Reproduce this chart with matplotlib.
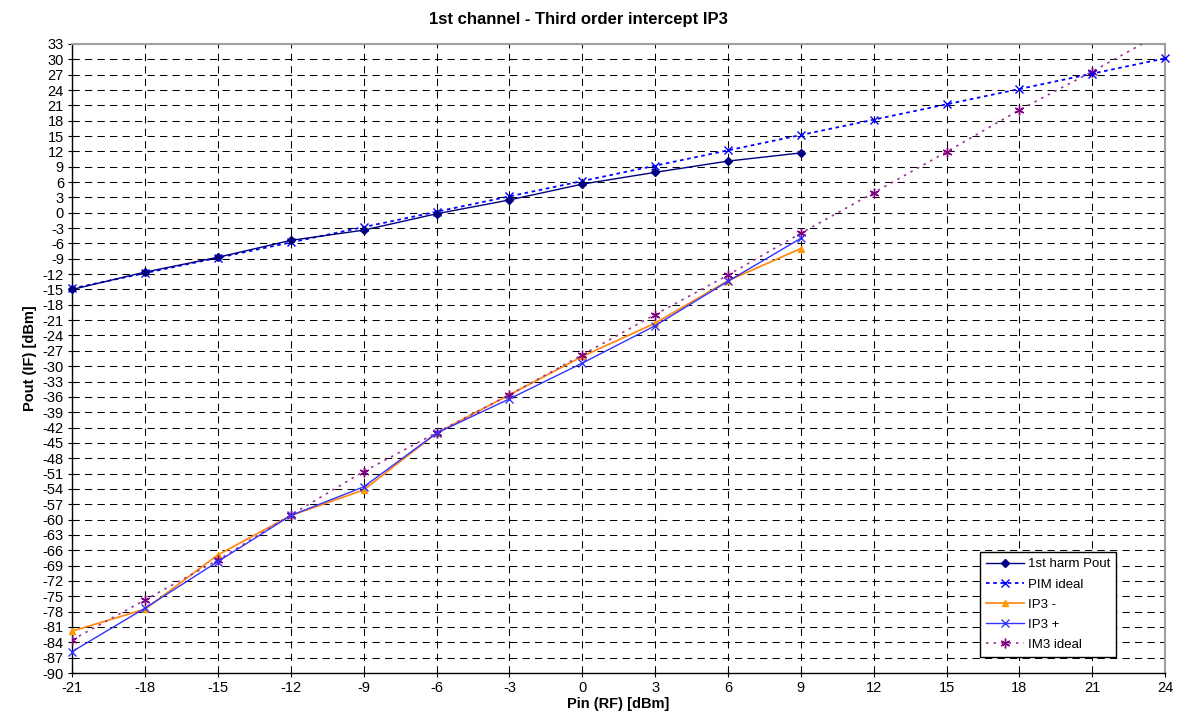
import matplotlib
matplotlib.use('Agg')
import matplotlib.pyplot as plt
import numpy as np

plt.rcParams['font.family'] = ['Liberation Sans', 'DejaVu Sans']
plt.rcParams['axes.unicode_minus'] = False

# Pin (RF) sweep in dBm
pin_meas = [-21, -18, -15, -12, -9, -6, -3, 0, 3, 6, 9]
pin_ideal = [-21, -18, -15, -12, -9, -6, -3, 0, 3, 6, 9, 12, 15, 18, 21, 24]

# measured output of the first harmonic
pout_1st = [-15.0, -11.6, -8.7, -5.4, -3.4, -0.2, 2.5, 5.6, 7.9, 10.1, 11.7]
# ideal 1:1 line
pim_ideal = [-14.8, -11.8, -8.8, -5.8, -2.8, 0.2, 3.2, 6.2, 9.2, 12.2,
             15.2, 18.2, 21.2, 24.2, 27.2, 30.2]
# third order products, lower and upper
ip3_minus = [-81.8, -77.5, -66.9, -59.2, -54.2, -43.1, -35.6, -28.1, -21.6, -13.3, -7.0]
ip3_plus = [-85.8, -77.3, -68.2, -59.2, -53.6, -43.1, -36.4, -29.4, -22.1, -13.4, -5.0]
# ideal 3:1 line
im3_ideal = [-83.5, -75.7, -67.9, -59.1, -50.6, -43.0, -35.6, -27.8, -19.9, -12.2,
             -4.0, 3.9, 11.9, 20.1, 27.6, 35.5]

x_ticks = np.arange(-21, 25, 3)
y_ticks = np.arange(-90, 34, 3)

fig = plt.figure(figsize=(11.81, 7.26), dpi=100)
ax = fig.add_axes([0.0612, 0.073, 0.9253, 0.8664])

ax.plot(pin_meas, pout_1st, color='#000080', lw=1.0, marker='D', ms=4,
        label='1st harm Pout', clip_on=False, zorder=5)
ax.plot(pin_ideal, pim_ideal, color='#0000FF', lw=1.3, ls=(0, (2, 2)),
        marker='x', ms=6, mew=1.0, label='PIM ideal', clip_on=False, zorder=4)
ax.plot(pin_meas, ip3_minus, color='#FF8C1A', lw=1.3, marker='^', ms=5,
        mfc='#FF9900', mec='#FF9900', label='IP3 -', clip_on=False, zorder=3)
ax.plot(pin_meas, ip3_plus, color='#3333FF', lw=1.0, marker='x', ms=6,
        mew=1.0, label='IP3 +', clip_on=False, zorder=4)
# the last ideal point lies above the axis, so keep this one clipped
ax.plot(pin_ideal, im3_ideal, color='#993399', lw=1.2, ls=(0, (1.5, 3)),
        marker=(6, 2, 0), ms=7, mec='#800080', mew=1.0, label='IM3 ideal',
        zorder=3)

ax.set_xlim(-21, 24)
ax.set_ylim(-90, 33)
ax.set_xticks(x_ticks)
ax.set_yticks(y_ticks)
ax.tick_params(axis='both', direction='inout', length=6, width=0.8,
               labelsize=10.5, pad=3)
ax.grid(True, color='black', lw=0.75, ls=(0, (7, 5)))

for side in ['left', 'bottom']:
    ax.spines[side].set_color('black')
    ax.spines[side].set_linewidth(1.0)
for side in ['top', 'right']:
    ax.spines[side].set_color('#A0A0A0')
    ax.spines[side].set_linewidth(1.5)

ax.set_xlabel('Pin (RF) [dBm]', fontsize=10.5, fontweight='bold', labelpad=1)
ax.set_ylabel('Pout (IF) [dBm]', fontsize=10.5, fontweight='bold', labelpad=4)
fig.suptitle('1st channel - Third order intercept IP3', x=0.49, y=0.984,
             fontsize=12, fontweight='bold')

leg = ax.legend(loc='lower left', bbox_to_anchor=(0.8307, 0.0254, 0.1245, 0.17),
                mode='expand', fontsize=9.5, handlelength=2.9, labelspacing=0.6,
                borderpad=0.45, handletextpad=0.3, borderaxespad=0,
                fancybox=False, framealpha=1, edgecolor='black')
leg.get_frame().set_linewidth(1.0)
leg.set_zorder(10)

fig.savefig('out.png', dpi=100)
